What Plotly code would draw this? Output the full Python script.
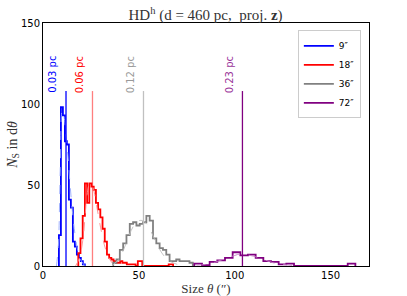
import plotly.graph_objects as go

# ---- data ----
labels = ["9″", "18″", "36″", "72″"]
colors = ["#0000ff", "#ff0000", "#808080", "#800080"]

blue_start, blue_width = 8.3, 1.04
blue_counts = [19, 98, 93, 77, 75, 41, 36, 15, 12, 7, 5, 3, 1]

red_start, red_width = 18.4, 1.15
red_counts = [8, 17, 31, 51, 39, 51, 49, 47, 39, 35, 30, 23, 15, 7, 5, 4, 3, 2, 2, 3,
              2, 2, 1, 1, 1, 1, 0, 3, 3, 0, 0, 0, 0, 0, 0, 0, 0, 0, 0, 0, 0, 1, 1]

gray_start, gray_width = 36.6, 1.73
gray_counts = [2, 4, 10, 14, 19, 26, 27, 25, 26, 27, 31, 28, 17, 14, 11, 10, 7, 3, 3, 4,
               3, 3, 3, 2]

purple_start, purple_width = 78.9, 4.0
purple_counts = [1.5, 0.5, 2.5, 3.5, 5, 8.5, 6.5, 7, 5, 3, 2.5, 1, 1.5, 0, 0, 0, 0, 0, 0, 0, 1.5]

# smoothed (dashed) curves
blue_fit_x = [7, 8, 9, 10, 11, 12, 13, 14, 15, 16, 17, 18, 19, 20, 22]
blue_fit_y = [0, 12, 60, 96, 92, 80, 68, 52, 38, 26, 17, 10, 6, 3, 0]
red_fit_x = [17, 19, 21, 22, 23, 24, 25, 26, 27, 28, 30, 32, 34, 36, 38]
red_fit_y = [0, 5, 18, 32, 44, 50, 51, 49, 44, 37, 24, 13, 6, 2, 0]
gray_fit_x = [36, 40, 42, 44, 46, 48, 50, 52, 54, 56, 58, 60, 62, 64, 66, 70]
gray_fit_y = [0, 5, 10, 16, 22, 26, 28, 28, 26, 22, 17, 12, 8, 5, 3, 1]
purple_fit_x = [80, 85, 90, 95, 100, 103, 106, 110, 115, 120, 125, 130]
purple_fit_y = [0.5, 1, 2.5, 4.5, 6.5, 7.5, 7, 6, 4, 2, 1, 0.3]

# characteristic sizes (vertical markers)
marker_theta = [12.0, 25.8, 52.4, 104.0]
marker_text = ["0.03 pc", "0.06 pc", "0.12 pc", "0.23 pc"]
marker_colors = ["#0000ff", "rgba(255,0,0,0.5)", "#c0c0c0", "#800080"]
label_colors = ["#0000ff", "#ff0000", "#999999", "#993399"]
marker_top = 108
label_y = 118

hists = [
    (blue_start, blue_width, blue_counts),
    (red_start, red_width, red_counts),
    (gray_start, gray_width, gray_counts),
    (purple_start, purple_width, purple_counts),
]
fits = [
    (blue_fit_x, blue_fit_y),
    (red_fit_x, red_fit_y),
    (gray_fit_x, gray_fit_y),
    (purple_fit_x, purple_fit_y),
]
fit_colors = ["rgba(150,170,255,0.9)", "rgba(255,140,140,0.9)",
              "rgba(190,190,190,0.9)", "rgba(200,130,200,0.9)"]

fig = go.Figure()

for (s, w, counts), (fx, fy), lab, col, fcol in zip(hists, fits, labels, colors, fit_colors):
    edges = [s + i * w for i in range(len(counts) + 1)]
    xs = [edges[0]] + edges[:-1] + [edges[-1]]
    ys = [0] + list(counts) + [0]
    fig.add_trace(go.Scatter(x=xs, y=ys, mode="lines", line=dict(color=col, width=1.8, shape="hv"),
                             name=lab, showlegend=True))
    fig.add_trace(go.Scatter(x=fx, y=fy, mode="lines", line=dict(color=fcol, width=1, dash="dash",
                                                               shape="spline"),
                             showlegend=False, hoverinfo="skip"))

for th, txt, mc, lc in zip(marker_theta, marker_text, marker_colors, label_colors):
    fig.add_trace(go.Scatter(x=[th, th], y=[0, marker_top], mode="lines",
                             line=dict(color=mc, width=1.3), showlegend=False, hoverinfo="skip"))
    fig.add_annotation(x=th, y=label_y, xref="x", yref="y", text=txt, textangle=-90,
                       showarrow=False, xshift=-13, font=dict(family="DejaVu Sans", size=10, color=lc))

fig.update_layout(
    width=407, height=296,
    margin=dict(l=43, r=38, t=23, b=30),
    plot_bgcolor="white", paper_bgcolor="white",
    title=dict(text="HD<sup>h</sup> (d = 460 pc,  proj. <b>z</b>)", x=0.505, xanchor="center",
               y=0.95, yanchor="middle",
               font=dict(family="Liberation Serif", size=15, color="#333333")),
    legend=dict(x=0.975, xanchor="right", y=0.97, yanchor="top", bgcolor="white",
                bordercolor="#cccccc", borderwidth=1, itemwidth=30,
                font=dict(family="DejaVu Sans", size=9, color="black"), tracegroupgap=0),
    xaxis=dict(range=[0, 170], tickvals=[0, 50, 100, 150], showgrid=False, zeroline=False,
               showline=True, mirror=True, linecolor="black", linewidth=1, ticks="",
               automargin=False,
               tickfont=dict(family="DejaVu Sans", size=10, color="black"),
               title=dict(text="Size <i>θ</i> (″)", standoff=0,
                          font=dict(family="Liberation Serif", size=13, color="#333333"))),
    yaxis=dict(range=[0, 150], tickvals=[0, 50, 100, 150], showgrid=False, zeroline=False,
               showline=True, mirror=True, linecolor="black", linewidth=1, ticks="",
               automargin=False,
               tickfont=dict(family="DejaVu Sans", size=10, color="black"),
               title=dict(text="<i>N</i><sub>S</sub> in d<i>θ</i>", standoff=0,
                          font=dict(family="Liberation Serif", size=14, color="#333333"))),
)

fig.write_html("out.html", config={"displayModeBar": False},
               post_script="document.body.style.margin='0';")
